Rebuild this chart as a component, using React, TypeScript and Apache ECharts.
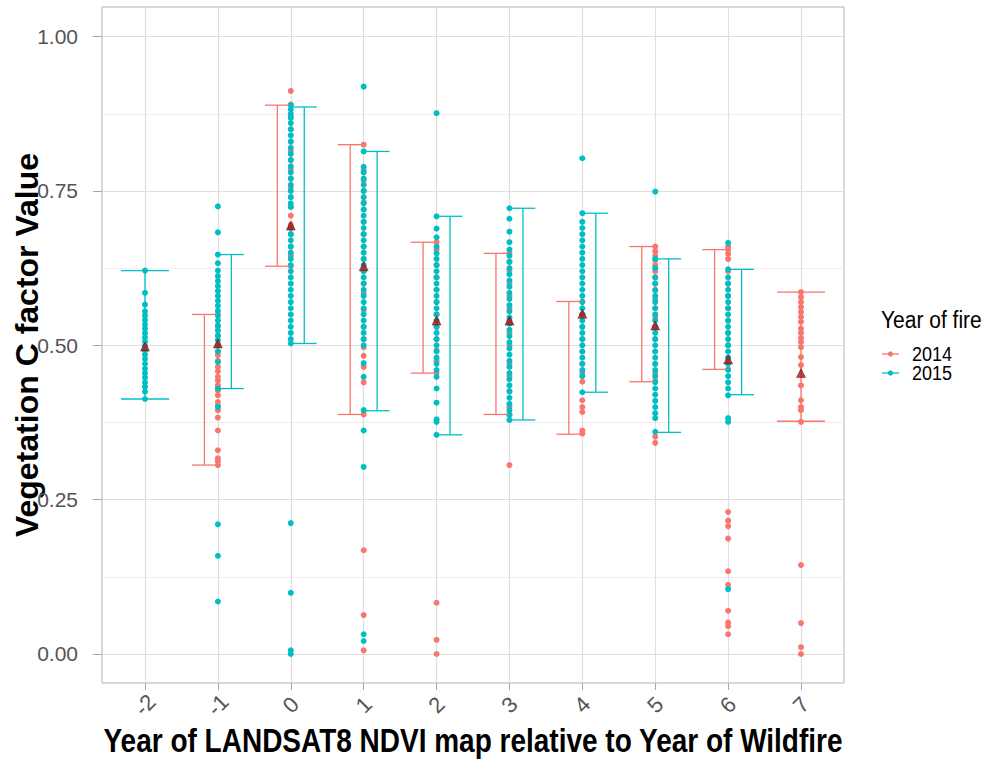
import React, { useEffect, useRef } from "react";
import * as echarts from "echarts";

const categories = [-2, -1, 0, 1, 2, 3, 4, 5, 6, 7];

// Points per category (same order as categories)
const values2014: number[][] = [
  [],
  [0.55, 0.53, 0.515, 0.5, 0.49, 0.484, 0.475, 0.465, 0.458, 0.449, 0.443, 0.435, 0.427, 0.419, 0.408, 0.402, 0.395, 0.383, 0.362, 0.33, 0.317, 0.312, 0.306],
  [0.912, 0.89, 0.87, 0.85, 0.83, 0.815, 0.8, 0.785, 0.77, 0.756, 0.74, 0.725, 0.71, 0.695, 0.68, 0.66, 0.645, 0.628],
  [0.825, 0.783, 0.767, 0.75, 0.732, 0.72, 0.7, 0.68, 0.66, 0.64, 0.62, 0.6, 0.584, 0.557, 0.53, 0.51, 0.497, 0.483, 0.465, 0.44, 0.388, 0.168, 0.063, 0.006],
  [0.667, 0.655, 0.63, 0.61, 0.59, 0.57, 0.55, 0.53, 0.51, 0.492, 0.475, 0.455, 0.083, 0.023, 0.0],
  [0.649, 0.635, 0.621, 0.6, 0.58, 0.56, 0.54, 0.52, 0.5, 0.47, 0.45, 0.426, 0.4, 0.388, 0.306],
  [0.571, 0.55, 0.53, 0.51, 0.49, 0.47, 0.455, 0.441, 0.411, 0.4, 0.392, 0.362, 0.357],
  [0.66, 0.652, 0.645, 0.638, 0.63, 0.62, 0.61, 0.6, 0.59, 0.575, 0.56, 0.545, 0.53, 0.51, 0.49, 0.47, 0.455, 0.443, 0.352, 0.342],
  [0.66, 0.655, 0.648, 0.64, 0.62, 0.6, 0.58, 0.56, 0.54, 0.52, 0.5, 0.48, 0.461, 0.23, 0.216, 0.207, 0.187, 0.134, 0.112, 0.07, 0.051, 0.045, 0.032],
  [0.586, 0.578, 0.57, 0.562, 0.554, 0.546, 0.538, 0.527, 0.52, 0.512, 0.505, 0.497, 0.481, 0.468, 0.435, 0.411, 0.4, 0.395, 0.376, 0.144, 0.05, 0.011, 0.0],
];

const values2015: number[][] = [
  [0.621, 0.585, 0.566, 0.555, 0.548, 0.541, 0.534, 0.527, 0.52, 0.513, 0.506, 0.499, 0.492, 0.485, 0.478, 0.47, 0.462, 0.455, 0.448, 0.44, 0.433, 0.425, 0.413],
  [0.725, 0.683, 0.647, 0.633, 0.621, 0.612, 0.604, 0.596, 0.588, 0.58, 0.572, 0.564, 0.556, 0.548, 0.54, 0.532, 0.524, 0.516, 0.508, 0.5, 0.49, 0.473, 0.43, 0.4, 0.21, 0.159, 0.085],
  [0.889, 0.882, 0.875, 0.868, 0.86, 0.85, 0.84, 0.83, 0.82, 0.81, 0.8, 0.79, 0.78, 0.77, 0.76, 0.75, 0.74, 0.73, 0.724, 0.69, 0.68, 0.67, 0.66, 0.65, 0.64, 0.63, 0.62, 0.61, 0.6, 0.59, 0.58, 0.57, 0.56, 0.55, 0.54, 0.53, 0.52, 0.51, 0.503, 0.212, 0.099, 0.006, 0.0],
  [0.919, 0.814, 0.789, 0.78, 0.77, 0.76, 0.75, 0.74, 0.73, 0.72, 0.71, 0.7, 0.69, 0.68, 0.67, 0.66, 0.65, 0.64, 0.63, 0.62, 0.61, 0.6, 0.59, 0.58, 0.57, 0.56, 0.55, 0.54, 0.53, 0.52, 0.51, 0.5, 0.471, 0.449, 0.395, 0.362, 0.303, 0.032, 0.021],
  [0.876, 0.709, 0.689, 0.675, 0.66, 0.649, 0.64, 0.63, 0.62, 0.61, 0.6, 0.59, 0.58, 0.57, 0.56, 0.55, 0.54, 0.53, 0.52, 0.51, 0.5, 0.49, 0.48, 0.47, 0.46, 0.449, 0.43, 0.407, 0.38, 0.376, 0.355],
  [0.722, 0.705, 0.684, 0.667, 0.655, 0.645, 0.635, 0.625, 0.615, 0.605, 0.595, 0.585, 0.575, 0.565, 0.555, 0.545, 0.535, 0.525, 0.515, 0.505, 0.495, 0.485, 0.475, 0.465, 0.455, 0.445, 0.435, 0.425, 0.415, 0.405, 0.395, 0.387, 0.379],
  [0.803, 0.714, 0.7, 0.69, 0.68, 0.67, 0.66, 0.65, 0.64, 0.63, 0.62, 0.61, 0.6, 0.59, 0.58, 0.57, 0.56, 0.55, 0.54, 0.53, 0.52, 0.51, 0.5, 0.49, 0.48, 0.47, 0.46, 0.45, 0.424],
  [0.749, 0.64, 0.625, 0.61, 0.6, 0.589, 0.58, 0.57, 0.56, 0.55, 0.54, 0.53, 0.52, 0.51, 0.5, 0.49, 0.48, 0.47, 0.46, 0.45, 0.44, 0.43, 0.42, 0.41, 0.4, 0.39, 0.382, 0.36],
  [0.666, 0.623, 0.61, 0.6, 0.59, 0.58, 0.57, 0.56, 0.55, 0.54, 0.53, 0.52, 0.51, 0.5, 0.49, 0.48, 0.47, 0.46, 0.45, 0.44, 0.43, 0.419, 0.382, 0.376, 0.105],
  [],
];

const meanValues = [0.498, 0.503, 0.694, 0.628, 0.54, 0.54, 0.551, 0.532, 0.477, 0.455];

// Error bars (null = no bar for that year)
const errLow2014 = [null, 0.306, 0.628, 0.388, 0.455, 0.388, 0.356, 0.441, 0.461, 0.377];
const errHigh2014 = [null, 0.55, 0.889, 0.825, 0.667, 0.649, 0.571, 0.66, 0.655, 0.586];
const errLow2015 = [0.413, 0.43, 0.503, 0.394, 0.355, 0.379, 0.424, 0.359, 0.42, null];
const errHigh2015 = [0.621, 0.647, 0.886, 0.814, 0.709, 0.722, 0.714, 0.64, 0.623, null];

const yTicks = [0, 0.25, 0.5, 0.75, 1];
const yMinorTicks = [0.125, 0.375, 0.625, 0.875];

const COL14 = "#F8766D";
const COL15 = "#00BFC4";
const FONT = '"Liberation Sans", Arial, sans-serif';

function flatten(vals: number[][]) {
  const out: number[][] = [];
  vals.forEach((arr, i) => arr.forEach((v) => out.push([categories[i], v])));
  return out;
}

function errData(low: (number | null)[], high: (number | null)[], otherLow: (number | null)[], sign: number) {
  const out: number[][] = [];
  low.forEach((lo, i) => {
    if (lo == null || high[i] == null) return;
    const dodged = otherLow[i] != null;
    const off = dodged ? sign * 0.185 : 0;
    const hw = dodged ? 0.17 : 0.33;
    out.push([categories[i], lo, high[i] as number, off, hw]);
  });
  return out;
}

function errorSeries(data: number[][], color: string) {
  return {
    type: "custom",
    z: 3,
    data,
    encode: { x: 0, y: [1, 2] },
    renderItem: (params: any, api: any) => {
      const c = api.value(0) + api.value(3);
      const hw = api.value(4);
      const lo = api.value(1);
      const hi = api.value(2);
      const pTop = api.coord([c, hi]);
      const pBot = api.coord([c, lo]);
      const l = api.coord([c - hw, hi])[0];
      const r = api.coord([c + hw, hi])[0];
      const style = { stroke: color, lineWidth: 1.3, fill: "none" };
      return {
        type: "group",
        children: [
          { type: "line", shape: { x1: pTop[0], y1: pTop[1], x2: pBot[0], y2: pBot[1] }, style },
          { type: "line", shape: { x1: l, y1: pTop[1], x2: r, y2: pTop[1] }, style },
          { type: "line", shape: { x1: l, y1: pBot[1], x2: r, y2: pBot[1] }, style },
        ],
      };
    },
  };
}

export default function App() {
  const ref = useRef<HTMLDivElement>(null);
  useEffect(() => {
    if (!ref.current) return;
    const chart = echarts.init(ref.current, null, { renderer: "svg" });
    const option: any = {
      animation: false,
      backgroundColor: "#ffffff",
      grid: {
        left: 102,
        right: 151,
        top: 7,
        bottom: 76,
        show: true,
        borderColor: "#b3b3b3",
        borderWidth: 1,
        backgroundColor: "transparent",
      },
      xAxis: {
        type: "value",
        min: -2.59,
        max: 7.59,
        axisLine: { show: false, onZero: false },
        axisTick: { show: true, length: 7, customValues: categories, lineStyle: { color: "#a6a6a6", width: 1 } },
        axisLabel: {
          customValues: categories,
          rotate: 45,
          align: "center",
          verticalAlign: "middle",
          margin: 22,
          fontSize: 22,
          color: "#555555",
          fontFamily: FONT,
          formatter: (v: number) => String(v),
        },
        splitLine: { show: true, lineStyle: { color: "#dedede", width: 1.2 } },
      },
      yAxis: [
        {
          type: "value",
          min: -0.047,
          max: 1.048,
          axisLine: { show: false, onZero: false },
          axisTick: { show: true, length: 9, customValues: yTicks, lineStyle: { color: "#a6a6a6", width: 1 } },
          axisLabel: {
            customValues: yTicks,
            margin: 24,
            fontSize: 21,
            color: "#555555",
            fontFamily: FONT,
            formatter: (v: number) => v.toFixed(2),
          },
          splitLine: { show: true, lineStyle: { color: "#dedede", width: 1.2 } },
        },
        {
          type: "value",
          min: -0.047,
          max: 1.048,
          position: "left",
          axisLine: { show: false, onZero: false },
          axisTick: { show: false, customValues: yMinorTicks },
          axisLabel: { show: false, customValues: yMinorTicks },
          splitLine: { show: true, lineStyle: { color: "#ececec", width: 0.9 } },
        },
      ],
      series: [
        {
          name: "2014",
          type: "scatter",
          z: 2,
          data: flatten(values2014),
          symbolSize: 6,
          itemStyle: { color: COL14, opacity: 1 },
        },
        {
          name: "2015",
          type: "scatter",
          z: 2,
          data: flatten(values2015),
          symbolSize: 6,
          itemStyle: { color: COL15, opacity: 1 },
        },
        errorSeries(errData(errLow2014, errHigh2014, errLow2015, -1), COL14),
        errorSeries(errData(errLow2015, errHigh2015, errLow2014, 1), COL15),
        {
          name: "mean",
          type: "scatter",
          z: 5,
          symbol: "triangle",
          symbolSize: 9,
          data: categories.map((c, i) => [c, meanValues[i]]),
          itemStyle: { color: "#c40c0c", borderColor: "#2a0000", borderWidth: 0.5 },
        },
      ],
      graphic: [
        {
          type: "text",
          x: 27,
          y: 345,
          rotation: Math.PI / 2,
          style: {
            text: "Vegetation C factor Value",
            font: `bold 32px ${FONT}`,
            fill: "#000000",
            align: "center",
            verticalAlign: "middle",
          },
        },
        {
          type: "text",
          x: 473,
          y: 740,
          scaleY: 1.18,
          style: {
            text: "Year of LANDSAT8 NDVI map relative to Year of Wildfire",
            font: `bold 28px ${FONT}`,
            fill: "#000000",
            align: "center",
            verticalAlign: "middle",
          },
        },
        {
          type: "text",
          x: 881,
          y: 320,
          scaleY: 1.12,
          style: {
            text: "Year of fire",
            font: `21px ${FONT}`,
            fill: "#000000",
            align: "left",
            verticalAlign: "middle",
          },
        },
        ...[
          { label: "2014", color: COL14, y: 354 },
          { label: "2015", color: COL15, y: 373 },
        ].flatMap((it) => [
          { type: "line", shape: { x1: 882, y1: it.y, x2: 899, y2: it.y }, style: { stroke: it.color, lineWidth: 1.3 } },
          { type: "circle", shape: { cx: 890.5, cy: it.y, r: 2.6 }, style: { fill: it.color } },
          {
            type: "text",
            x: 912,
            y: it.y,
            scaleY: 1.15,
            style: { text: it.label, font: `18px ${FONT}`, fill: "#000000", align: "left", verticalAlign: "middle" },
          },
        ]),
      ],
    };
    chart.setOption(option);
    return () => chart.dispose();
  }, []);
  return (
    <div
      ref={ref}
      style={{ position: "fixed", left: 0, top: 0, width: 995, height: 759, background: "#fff" }}
    />
  );
}
